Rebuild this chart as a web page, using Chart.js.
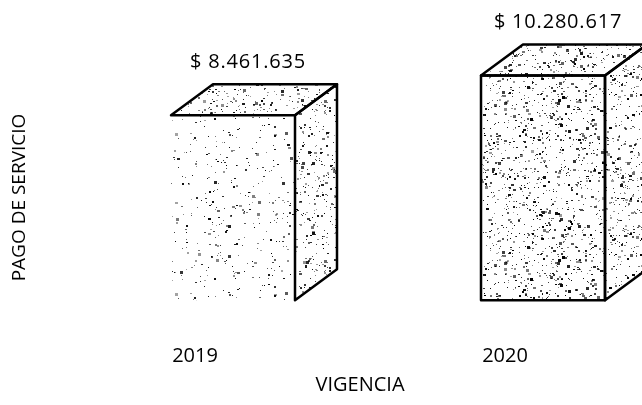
<!DOCTYPE html>
<html>
<head>
<meta charset="utf-8">
<script src="https://cdn.jsdelivr.net/npm/chart.js@4.4.1/dist/chart.umd.min.js"></script>
<style>
  html, body { margin: 0; padding: 0; background: #fff; }
  #wrap { width: 642px; height: 405px; overflow: hidden; }
  #box { width: 720px; height: 405px; }
</style>
</head>
<body>
<div id="wrap"><div id="box"><canvas id="chart"></canvas></div></div>
<script>
// data
const years = ['2019', '2020']
const pagos = [8461635, 10280617]

// 3d look
const depthX = 42
const depthY = 31
const shiftX = 28
const fontFamily = "'Open Sans', sans-serif"

Chart.defaults.font.family = fontFamily
Chart.defaults.color = '#000'

const pesos = v => '$ ' + String(v).replace(/\B(?=(\d{3})+(?!\d))/g, '.')

// stipple texture, fixed seed so it draws the same every time
let seed = 12345
const rnd = () => {
  seed = (seed * 16807) % 2147483647
  return seed / 2147483647
}

const stipple = (ctx, count) => {
  const c = document.createElement('canvas')
  c.width = 160
  c.height = 160
  const g = c.getContext('2d')
  g.fillStyle = '#fff'
  g.fillRect(0, 0, 160, 160)
  for (let i = 0; i < count; i++) {
    const x = Math.floor(rnd() * 160)
    const y = Math.floor(rnd() * 160)
    const k = rnd()
    const w = k < 0.55 ? 1 : k < 0.9 ? 2 : 3
    const h = rnd() < 0.5 ? w : Math.max(1, w - 1)
    g.fillStyle = `rgba(0,0,0,${(0.35 + rnd() * 0.65).toFixed(2)})`
    g.fillRect(x, y, w, h)
  }
  return ctx.createPattern(c, 'repeat')
}

let textures = null

const poly = (ctx, pts) => {
  ctx.beginPath()
  ctx.moveTo(pts[0][0], pts[0][1])
  pts.slice(1).forEach(p => ctx.lineTo(p[0], p[1]))
  ctx.closePath()
}

const boxes3d = {
  id: 'boxes3d',
  afterDatasetsDraw(chart) {
    const ctx = chart.ctx
    if (!textures) {
      textures = {
        front: [stipple(ctx, 420), stipple(ctx, 1100)],
        top: [stipple(ctx, 950), stipple(ctx, 1250)],
        side: [stipple(ctx, 900), stipple(ctx, 1150)]
      }
    }
    const meta = chart.getDatasetMeta(0)
    meta.data.forEach((bar, i) => {
      const { x, y, base, width } = bar.getProps(['x', 'y', 'base', 'width'], true)
      const l = x - width / 2 + shiftX
      const r = x + width / 2 + shiftX
      const front = [[l, y], [r, y], [r, base], [l, base]]
      const top = [[l, y], [l + depthX, y - depthY], [r + depthX, y - depthY], [r, y]]
      const side = [[r, y], [r + depthX, y - depthY], [r + depthX, base - depthY], [r, base]]

      ctx.save()
      poly(ctx, front); ctx.fillStyle = textures.front[i]; ctx.fill()
      poly(ctx, top); ctx.fillStyle = textures.top[i]; ctx.fill()
      poly(ctx, side); ctx.fillStyle = textures.side[i]; ctx.fill()

      ctx.lineWidth = 2.5
      ctx.lineJoin = 'round'
      ctx.strokeStyle = '#000'
      poly(ctx, top); ctx.stroke()
      poly(ctx, side); ctx.stroke()
      if (i > 0) {
        poly(ctx, front); ctx.stroke()
      }

      // value label
      ctx.font = `20px ${fontFamily}`
      ctx.letterSpacing = '0.8px'
      ctx.fillStyle = '#000'
      ctx.textAlign = 'center'
      ctx.textBaseline = 'middle'
      ctx.fillText(pesos(pagos[i]), (l + r) / 2 + 15, y - depthY - 22)
      ctx.restore()
    })
  }
}

const chart = new Chart(document.getElementById('chart'), {
  type: 'bar',
  data: {
    labels: years,
    datasets: [{
      label: 'PAGO DE SERVICIO',
      data: pagos,
      backgroundColor: 'rgba(0,0,0,0)',
      borderWidth: 0,
      categoryPercentage: 0.4,
      barPercentage: 1
    }]
  },
  options: {
    responsive: true,
    maintainAspectRatio: false,
    animation: false,
    layout: { padding: { top: 51, left: 4, right: 50, bottom: 4 } },
    plugins: {
      legend: { display: false },
      tooltip: { enabled: false }
    },
    scales: {
      x: {
        offset: true,
        grid: { display: false },
        border: { display: false },
        ticks: { font: { size: 20 }, padding: -8, labelOffset: -10 },
        title: { display: true, text: 'VIGENCIA', font: { size: 20 }, padding: { top: 0, bottom: 4 } },
        afterFit: s => { s.height = 57 }
      },
      y: {
        min: -2000000,
        max: 11400000,
        grid: { display: false },
        border: { display: false },
        ticks: { display: false },
        title: { display: true, text: 'PAGO DE SERVICIO', font: { size: 19 }, padding: { top: 4, bottom: 0 } },
        afterFit: s => { s.width = 46 }
      }
    }
  },
  plugins: [boxes3d]
})
</script>
</body>
</html>
